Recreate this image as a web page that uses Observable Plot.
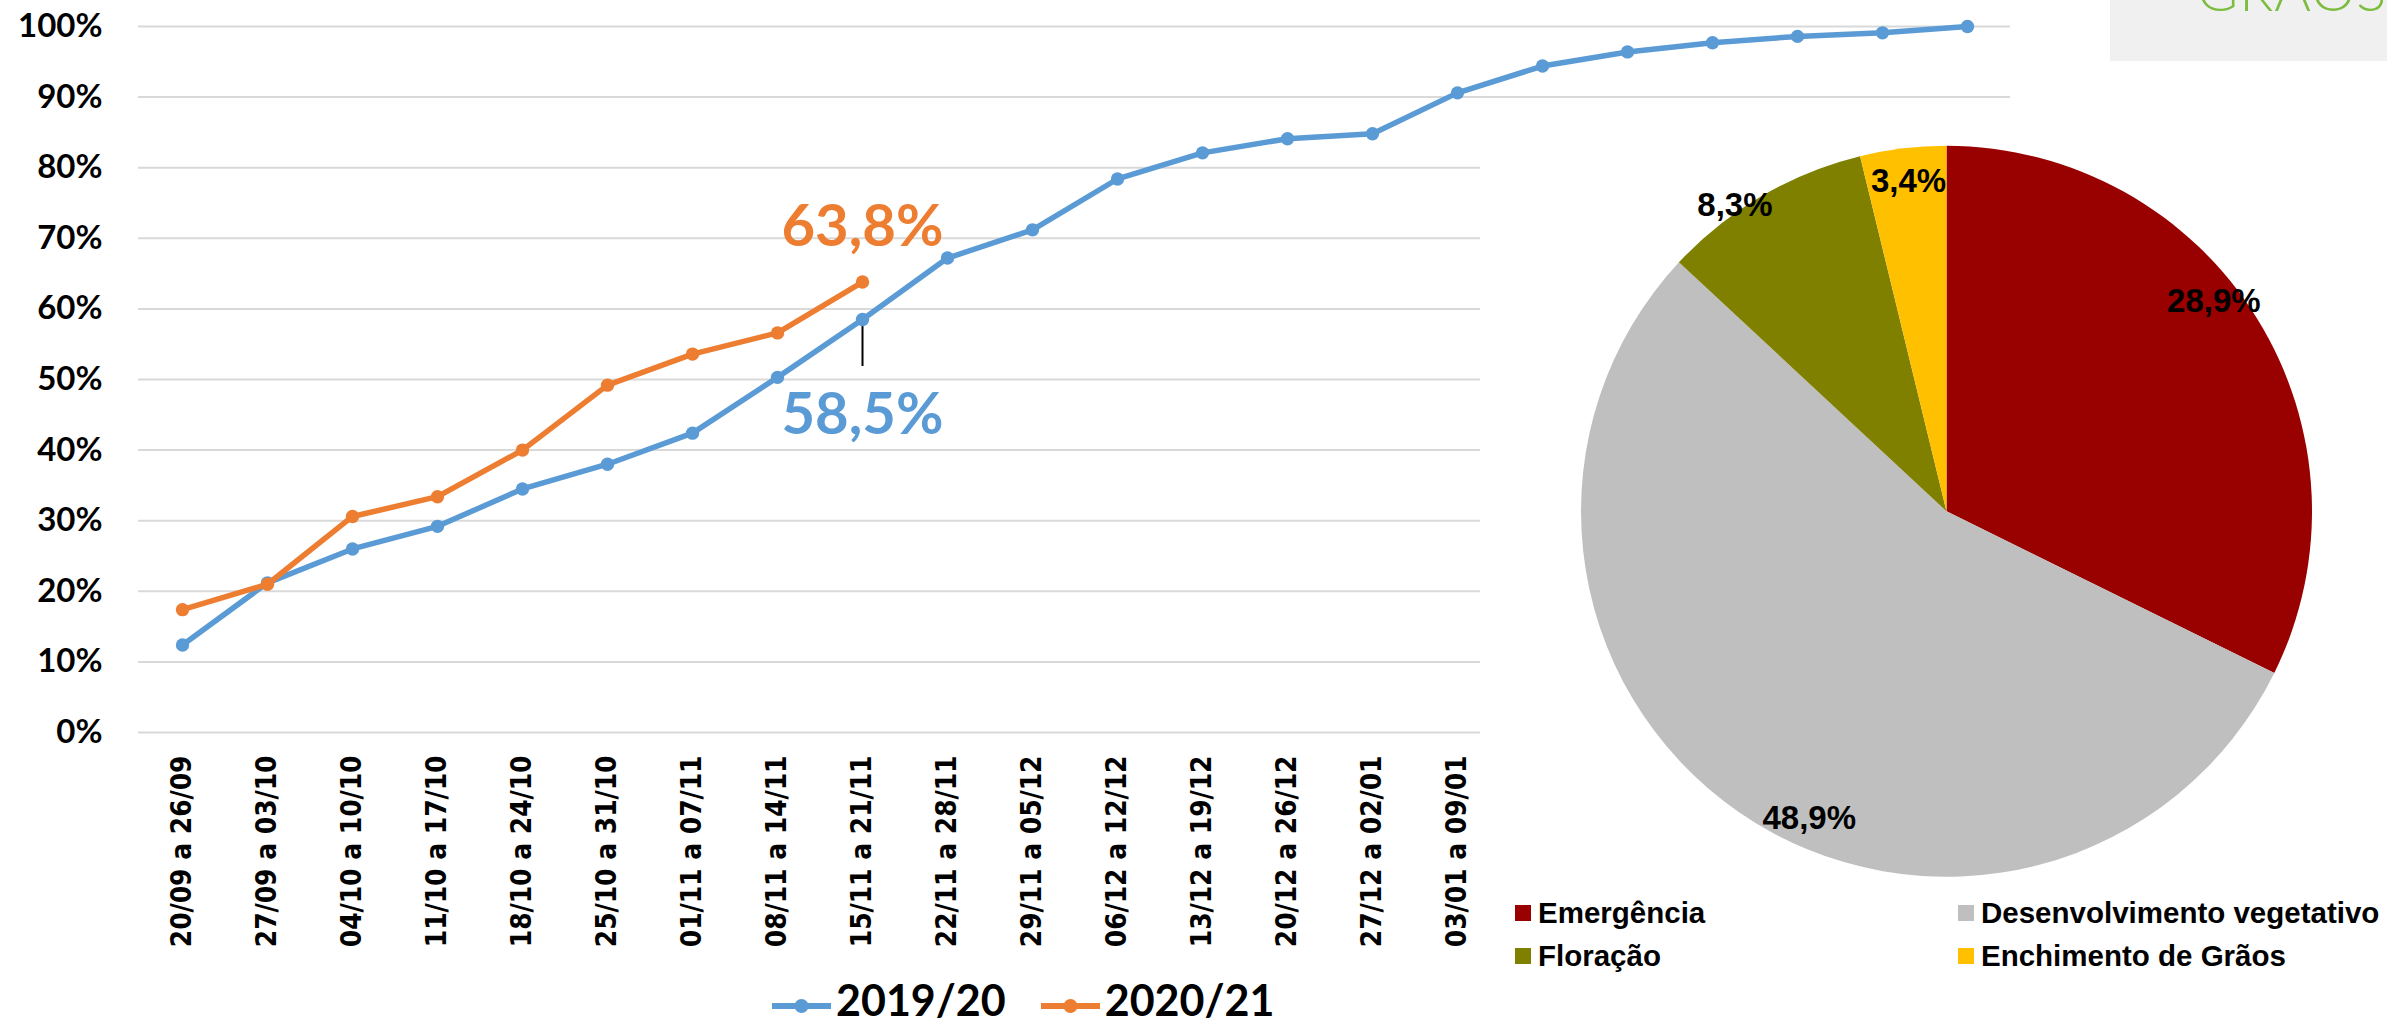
<!DOCTYPE html>
<html lang="pt">
<head>
<meta charset="utf-8">
<script src="https://cdn.jsdelivr.net/npm/d3@7"></script>
<script src="https://cdn.jsdelivr.net/npm/@observablehq/plot@0.6"></script>
<style>
  html, body { margin: 0; padding: 0; background: #fff; }
  #root { position: relative; width: 2387px; height: 1027px; overflow: hidden; background: #fff; }
  #line { position: absolute; left: 0; top: 0; }
  #piePanel { position: absolute; left: 1480px; top: 120px; width: 907px; height: 907px; background: #fff; }
  #pie { position: absolute; left: 0; top: 0; }
  #pieLegend { position: absolute; left: 35px; top: 771px; display: grid; grid-template-columns: 443px 443px; grid-auto-rows: 43.5px; }
  #pieLegend .item { display: flex; align-items: center; font: bold 29.5px "Liberation Sans", Arial, sans-serif; color: #000; white-space: nowrap; }
  #pieLegend .sw { width: 16px; height: 16px; margin-right: 7px; flex: none; }
  #lineLegend { position: absolute; left: 772px; top: 974px; height: 52px; display: flex; align-items: center; font: bold 43px Lato, "Open Sans", sans-serif; line-height: 1.2; color: #000; }
  #lineLegend .item { display: flex; align-items: center; margin-right: 35px; }
  #lineLegend svg { margin-right: 5px; position: relative; top: 6px; }
  #topBox { position: absolute; left: 2110px; top: 0; width: 277px; height: 61px; background: #f0f0f0; }
</style>
</head>
<body>
<div id="root">
  <div id="line"></div>
  <div id="lineLegend"></div>
  <div id="piePanel"><div id="pie"></div><div id="pieLegend"></div></div>
  <div id="topBox"><svg width="277" height="61"><text x="87" y="11" fill="#7cbd3f" style="font: 300 56px Lato, 'Open Sans', sans-serif; letter-spacing: 1px;">GRÃOS</text></svg></div>
</div>
<script>
// ---------- DATA ----------
const weeks = [
  "20/09 a 26/09", "27/09 a 03/10", "04/10 a 10/10", "11/10 a 17/10", "18/10 a 24/10",
  "25/10 a 31/10", "01/11 a 07/11", "08/11 a 14/11", "15/11 a 21/11", "22/11 a 28/11",
  "29/11 a 05/12", "06/12 a 12/12", "13/12 a 19/12", "20/12 a 26/12", "27/12 a 02/01",
  "03/01 a 09/01", "10/01 a 16/01", "17/01 a 23/01", "24/01 a 30/01", "31/01 a 06/02",
  "07/02 a 13/02", "14/02 a 20/02"
];
// tick labels that are visible (the rest sit behind the pie panel)
const xTickLabels = weeks.slice(0, 16);
const yTicks = [0, 10, 20, 30, 40, 50, 60, 70, 80, 90, 100];

const seasons = ["2019/20", "2020/21"];
const values2019 = [12.4, 21.2, 26.0, 29.2, 34.5, 38.0, 42.4, 50.3, 58.5, 67.2, 71.2,
                    78.4, 82.1, 84.1, 84.8, 90.6, 94.4, 96.4, 97.7, 98.6, 99.1, 100];
const values2020 = [17.4, 21.0, 30.6, 33.4, 40.0, 49.2, 53.6, 56.6, 63.8];

const stages = ["Emergência", "Desenvolvimento vegetativo", "Floração", "Enchimento de Grãos"];
const stageShares = [28.9, 48.9, 8.3, 3.4];

// ---------- STYLE ----------
const seasonColors = ["#5b9bd5", "#ed7d31"];
const stageColors = ["#990000", "#bfbfbf", "#808000", "#ffc000"];
const calibriLike = "Lato, 'Open Sans', sans-serif";
const arialLike = "'Liberation Sans', Arial, sans-serif";
const fmtPct = v => v.toFixed(1).replace(".", ",") + "%";

// ---------- LINE CHART ----------
const rows = [
  ...values2019.map((v, i) => ({week: weeks[i], season: seasons[0], value: v})),
  ...values2020.map((v, i) => ({week: weeks[i], season: seasons[1], value: v}))
];
const s0 = rows.filter(d => d.season === seasons[0]);
const s1 = rows.filter(d => d.season === seasons[1]);
const lastOrange = s1[s1.length - 1];
const blueSame = s0.find(d => d.week === lastOrange.week);

const linePlot = Plot.plot({
  width: 2387,
  height: 975,
  marginLeft: 138,
  marginRight: 377,
  marginTop: 26,
  marginBottom: 243,
  style: {background: "transparent", color: "#000", overflow: "visible"},
  x: {type: "point", domain: weeks, padding: 0.5},
  y: {domain: [0, 100]},
  color: {domain: seasons, range: seasonColors},
  marks: [
    Plot.gridY(yTicks, {stroke: "#d9d9d9", strokeOpacity: 1, strokeWidth: 2}),
    Plot.axisY(yTicks, {
      tickSize: 0, tickPadding: 36, label: null,
      tickFormat: d => d + "%",
      fontSize: 33, fontWeight: "bold", fontFamily: calibriLike, fill: "#000"
    }),
    Plot.axisX(xTickLabels, {
      tickRotate: -90, tickSize: 0, tickPadding: 23, label: null,
      fontSize: 27.8, fontWeight: "bold",
      fontFamily: "'DejaVu Sans Condensed', 'DejaVu Sans', sans-serif", fill: "#000"
    }),
    Plot.ruleX([blueSame], {x: "week", y1: "value", y2: "value", insetBottom: -47, stroke: "#000", strokeWidth: 2}),
    Plot.line(s0, {x: "week", y: "value", stroke: "season", strokeWidth: 5.5, strokeLinejoin: "round", strokeLinecap: "round"}),
    Plot.dot(s0, {x: "week", y: "value", fill: "season", r: 6.7}),
    Plot.line(s1, {x: "week", y: "value", stroke: "season", strokeWidth: 5.5, strokeLinejoin: "round", strokeLinecap: "round"}),
    Plot.dot(s1, {x: "week", y: "value", fill: "season", r: 6.7}),
    Plot.text([lastOrange], {
      x: "week", y: "value", text: d => fmtPct(d.value),
      fill: seasonColors[1], fontSize: 58, fontWeight: "bold", fontFamily: calibriLike,
      textAnchor: "middle", lineAnchor: "bottom", dy: -36
    }),
    Plot.text([blueSame], {
      x: "week", y: "value", text: d => fmtPct(d.value),
      fill: seasonColors[0], fontSize: 58, fontWeight: "bold", fontFamily: calibriLike,
      textAnchor: "middle", lineAnchor: "bottom", dy: 115
    })
  ]
});
document.getElementById("line").appendChild(linePlot);

// line legend
const lineLegend = d3.select("#lineLegend");
seasons.forEach((s, i) => {
  const item = lineLegend.append("div").attr("class", "item");
  const sv = item.append("svg").attr("width", 59).attr("height", 24);
  sv.append("line").attr("x1", 0).attr("x2", 59).attr("y1", 12).attr("y2", 12)
    .attr("stroke", seasonColors[i]).attr("stroke-width", 6);
  sv.append("circle").attr("cx", 29.5).attr("cy", 12).attr("r", 7).attr("fill", seasonColors[i]);
  item.append("span").text(s);
});

// ---------- PIE ----------
const pieRows = stages.map((s, i) => ({stage: s, share: stageShares[i]}));
const arcs = d3.pie().sort(null).value(d => d.share)(pieRows);
// label placement (angle nudge in degrees, radius fraction), Excel "best fit" look
const labelPlacement = [[-6.4, 0.93], [-10.4, 0.92], [-4.3, 1.02], [0.2, 0.91]];
const labelAngle = (d, i) => (d.startAngle + d.endAngle) / 2 + labelPlacement[i][0] * Math.PI / 180;

function pieSlices(index, scales) {
  const cx = scales.x(0), cy = scales.y(0);
  const r = Math.abs(scales.x(1) - scales.x(0));
  const g = d3.create("svg:g").attr("aria-label", "pie slices");
  g.selectAll("path").data(arcs).join("path")
    .attr("transform", `translate(${cx},${cy})`)
    .attr("d", d3.arc().innerRadius(0).outerRadius(r))
    .attr("fill", (d, i) => stageColors[i]);
  return g.node();
}

const piePlot = Plot.plot({
  width: 907,
  height: 790,
  style: {background: "transparent", color: "#000"},
  x: {domain: [-1, 1], range: [101, 832], axis: null},
  y: {domain: [-1, 1], range: [756.8, 25.8], axis: null},
  marks: [
    pieSlices,
    Plot.text(arcs, {
      x: (d, i) => labelPlacement[i][1] * Math.sin(labelAngle(d, i)),
      y: (d, i) => labelPlacement[i][1] * Math.cos(labelAngle(d, i)),
      text: d => fmtPct(d.data.share),
      fontSize: 33, fontWeight: "bold", fontFamily: arialLike, fill: "#000",
      textAnchor: "middle", lineAnchor: "middle"
    })
  ]
});
document.getElementById("pie").appendChild(piePlot);

const pieLegend = d3.select("#pieLegend");
stages.forEach((s, i) => {
  const item = pieLegend.append("div").attr("class", "item");
  item.append("div").attr("class", "sw").style("background", stageColors[i]);
  item.append("span").text(s);
});
</script>
</body>
</html>
